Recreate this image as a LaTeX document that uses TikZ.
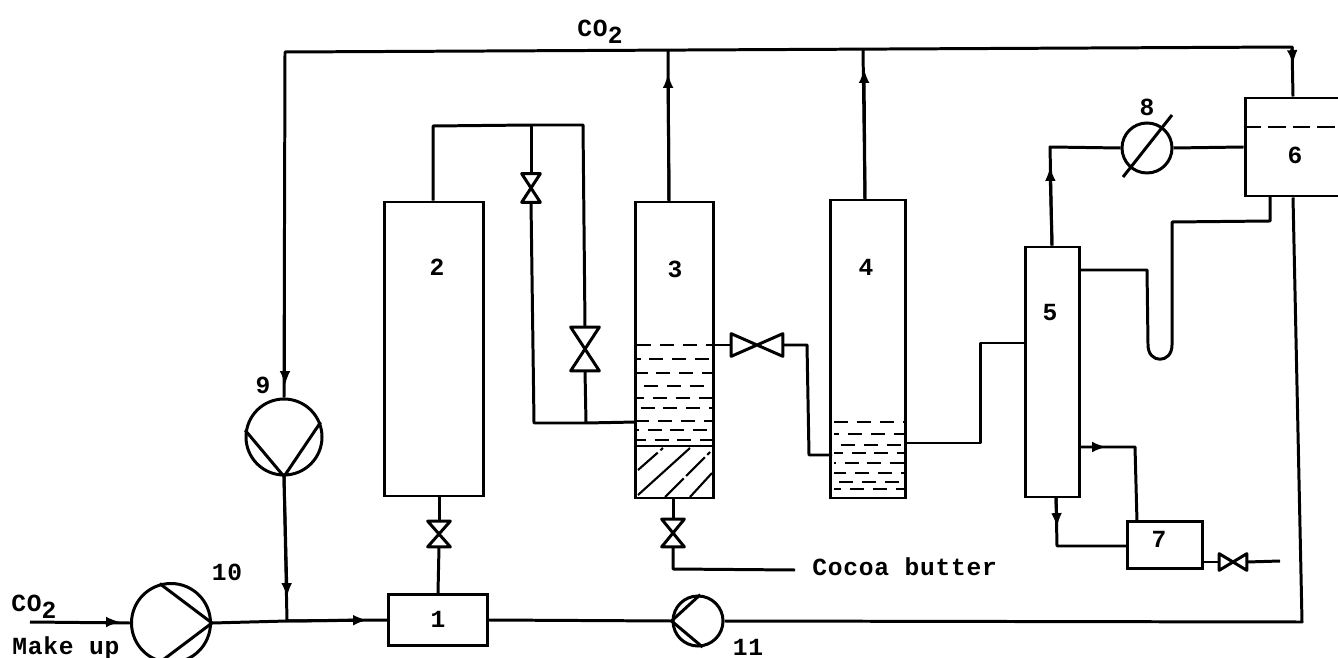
\documentclass[tikz,border=0pt]{standalone}
\usepackage{fontspec}
\setmainfont{Liberation Mono}[LetterSpace=3]
\newcommand{\cotwo}{CO\raisebox{-.5ex}{2}}
\newcommand{\px}{0.02cm}

\begin{document}
\begin{tikzpicture}[x=0.02cm,y=-0.02cm]
  \tikzset{vessel/.style = {shape=rectangle,draw,line width=1.7pt,inner sep=0pt}}
  \tikzset{rotor/.style = {shape=circle,draw,line width=1.7pt,inner sep=0pt}}
  \tikzset{valve/.style = {shape=rectangle,inner sep=0pt}}
  \tikzset{pipe/.style = {line width=1.7pt,line join=round}}
  \tikzset{flow/.style = {pipe,-latex}}
  \tikzset{liquid/.style = {line width=1.2pt,dash pattern=on 8pt off 5pt}}
  \tikzset{hatch/.style = {line width=1.2pt,dash pattern=on 15pt off 2pt}}
  \tikzset{tag/.style = {font=\bfseries\fontsize{14}{16}\selectfont,inner sep=0pt}}
  \clip (0,0) rectangle (1338,658);

  % vessels
  \node[vessel,minimum width=99*\px,minimum height=51*\px] (1) at (438,620) {};
  \node[vessel,minimum width=99*\px,minimum height=294*\px] (2) at (434,349) {};
  \node[vessel,minimum width=78*\px,minimum height=296*\px] (3) at (674,350) {};
  \node[vessel,minimum width=75*\px,minimum height=298*\px] (4) at (868,349) {};
  \node[vessel,minimum width=54*\px,minimum height=250*\px] (5) at (1052,372) {};
  \node[vessel,minimum width=96*\px,minimum height=98*\px] (6) at (1293,147) {};
  \node[vessel,minimum width=75*\px,minimum height=47*\px] (7) at (1165,545) {};

  % pumps and cooler
  \node[rotor,minimum size=50*\px] (8) at (1147,148) {};
  \node[rotor,minimum size=76*\px] (9) at (284,437) {};
  \node[rotor,minimum size=79*\px] (10) at (171,623) {};
  \node[rotor,minimum size=50*\px] (11) at (698,621) {};
  \coordinate (s8a) at (1123,177);
  \coordinate (s8b) at (1172,115);
  \draw[pipe] (s8a) -- (s8b);
  \draw[pipe] (9.170) -- (9.south) -- (9.22);
  \draw[pipe] (10.106) -- (10.east) -- (10.254);
  \draw[pipe] (11.85) -- (11.west) -- (11.-80);

  % valves
  \node[valve,minimum width=22*\px,minimum height=25*\px] (va) at (439,534) {};
  \node[valve,minimum width=18*\px,minimum height=28*\px] (vb) at (531,188) {};
  \node[valve,minimum width=28*\px,minimum height=43*\px] (vc) at (585,349) {};
  \node[valve,minimum width=22*\px,minimum height=27*\px] (vd) at (673,533) {};
  \node[valve,minimum width=51*\px,minimum height=22*\px] (ve) at (757,345) {};
  \node[valve,minimum width=27*\px,minimum height=16*\px] (vf) at (1233,562) {};
  \foreach \v in {va,vb,vc,vd}
    \draw[pipe] (\v.south west) -- (\v.south east) -- (\v.north west) -- (\v.north east) -- cycle;
  \foreach \v in {ve,vf}
    \draw[pipe] (\v.south west) -- (\v.north west) -- (\v.south east) -- (\v.north east) -- cycle;

  % routing points
  \coordinate (in) at (30,622);
  \coordinate (jn) at (287,621);
  \coordinate (tl) at (285,52);
  \coordinate (tr) at (1292,47);
  \coordinate (t3) at (668,50);
  \coordinate (t4) at (863,49);
  \coordinate (b3) at (669,202);
  \coordinate (b4) at (865,200);
  \coordinate (h1) at (433,126);
  \coordinate (h2) at (531,125);
  \coordinate (h3) at (583,125);
  \coordinate (n1) at (534,423);
  \coordinate (n2) at (586,423);
  \coordinate (n3) at (636,422);
  \coordinate (r1) at (807,345);
  \coordinate (r2) at (809,455);
  \coordinate (r3) at (832,455);
  \coordinate (f1) at (906,443);
  \coordinate (f2) at (980,443);
  \coordinate (f3) at (980,343);
  \coordinate (f4) at (1025,343);
  \coordinate (u1) at (1079,270);
  \coordinate (u2) at (1147,270);
  \coordinate (u3) at (1148,345);
  \coordinate (u4) at (1172,345);
  \coordinate (u5) at (1172,222);
  \coordinate (u6) at (1270,221);
  \coordinate (u7) at (1270,196);
  \coordinate (d1) at (1050,147);
  \coordinate (g1) at (1302,622);
  \coordinate (k1) at (1080,447);
  \coordinate (k2) at (1135,447);
  \coordinate (k3) at (1137,522);
  \coordinate (m1) at (1056,497);
  \coordinate (m2) at (1057,546);
  \coordinate (o1) at (673,569);
  \coordinate (o2) at (795,570);
  \coordinate (o3) at (1280,561);

  % arrow marks on the lines
  \coordinate (a1) at (120,622);
  \coordinate (a2) at (367,620);
  \coordinate (a3) at (287,597);
  \coordinate (a4) at (285,385);
  \coordinate (a5) at (668,74);
  \coordinate (a6) at (864,69);
  \coordinate (a7) at (1293,64);
  \coordinate (a8) at (1050,167);
  \coordinate (a9) at (1106,447);
  \coordinate (a10) at (1057,527);

  % lines
  \draw[pipe] (in) -- (10.west);
  \draw[flow] (in) -- (a1);
  \draw[pipe] (10.east) -- (jn) -- (1.west);
  \draw[flow] (jn) -- (a2);
  \draw[pipe] (9.south) -- (jn);
  \draw[flow] (9.south) -- (a3);
  \draw[pipe] (9.north) -- (tl) -- (tr) -- (6.north);
  \draw[flow] (tl) -- (a4);
  \draw[flow] (tr) -- (a7);
  \draw[pipe] (b3) -- (t3);
  \draw[flow] (b3) -- (a5);
  \draw[pipe] (b4) -- (t4);
  \draw[flow] (b4) -- (a6);
  \draw[pipe] (1.north) -- (va.south);
  \draw[pipe] (va.north) -- (2.south -| va);
  \draw[pipe] (2.north -| h1) -- (h1) -- (h2) -- (h3) -- (vc.north);
  \draw[pipe] (h2) -- (vb.north);
  \draw[pipe] (vb.south) -- (n1) -- (n2) -- (n3);
  \draw[pipe] (vc.south) -- (n2);
  \draw[pipe] (3.south -| vd) -- (vd.north);
  \draw[pipe] (vd.south) -- (o1) -- (o2);
  \draw[pipe] (3.east |- ve) -- (ve.west);
  \draw[pipe] (ve.east) -- (r1) -- (r2) -- (r3);
  \draw[pipe] (f1) -- (f2) -- (f3) -- (f4);
  \draw[pipe] (5.north) -- (d1) -- (8.west);
  \draw[flow] (5.north) -- (a8);
  \draw[pipe] (8.east) -- (6.west);
  \draw[pipe] (u1) -- (u2) -- (u3) .. controls (1148,364) and (1172,364) .. (u4) -- (u5) -- (u6) -- (u7);
  \draw[pipe] (6.south) -- (g1) -- (11.east);
  \draw[pipe] (11.west) -- (1.east);
  \draw[pipe] (k1) -- (k2) -- (k3);
  \draw[flow] (k1) -- (a9);
  \draw[pipe] (m1) -- (m2) -- (7.west |- m2);
  \draw[flow] (m1) -- (a10);
  \draw[pipe] (7.east |- vf) -- (vf.west);
  \draw[pipe] (vf.east) -- (o3);

  % liquid in 3 and 4
  \foreach \y/\p in {345/0,359/6,373/2,386/9,398/4,408/11,421/1,430/7,440/3}
    \draw[liquid,dash phase=\p pt] (637,\y) -- (712,\y);
  \foreach \y/\p in {422/0,434/5,445/9,453/3,463/7,473/1,482/10,489/4}
    \draw[liquid,dash phase=\p pt] (834,\y) -- (904,\y);

  % bed in 3
  \draw[line width=1.2pt] (635,446) -- (713,446);
  \draw[hatch] (638,470) -- (663,448);
  \draw[line width=1.2pt] (638,495) -- (690,448);
  \draw[hatch] (665,497) -- (710,452);
  \draw[line width=1.2pt] (690,497) -- (712,473);

  % level in 6
  \draw[line width=1.2pt,dash pattern=on 10pt off 4pt] (6.west |- 0,127) -- (6.east |- 0,127);

  % texts
  \node[tag] (l1) at (438,619) {1};
  \node[tag] (l2) at (437,267) {2};
  \node[tag] (l3) at (675,269) {3};
  \node[tag] (l4) at (866,267) {4};
  \node[tag] (l5) at (1050,313) {5};
  \node[tag] (l6) at (1295,155) {6};
  \node[tag] (l7) at (1159,539) {7};
  \node[tag] (l8) at (1147,107) {8};
  \node[tag] (l9) at (263,385) {9};
  \node[tag] (l10) at (227,572) {10};
  \node[tag] (l11) at (748,647) {11};
  \node[tag] (top) at (600,32) {\cotwo};
  \node[tag] (co) at (34,607) {\cotwo};
  \node[tag] (mk) at (66,648) {Make up};
  \node[tag,anchor=west] (cb) at (812,567) {Cocoa butter};
\end{tikzpicture}
\end{document}
